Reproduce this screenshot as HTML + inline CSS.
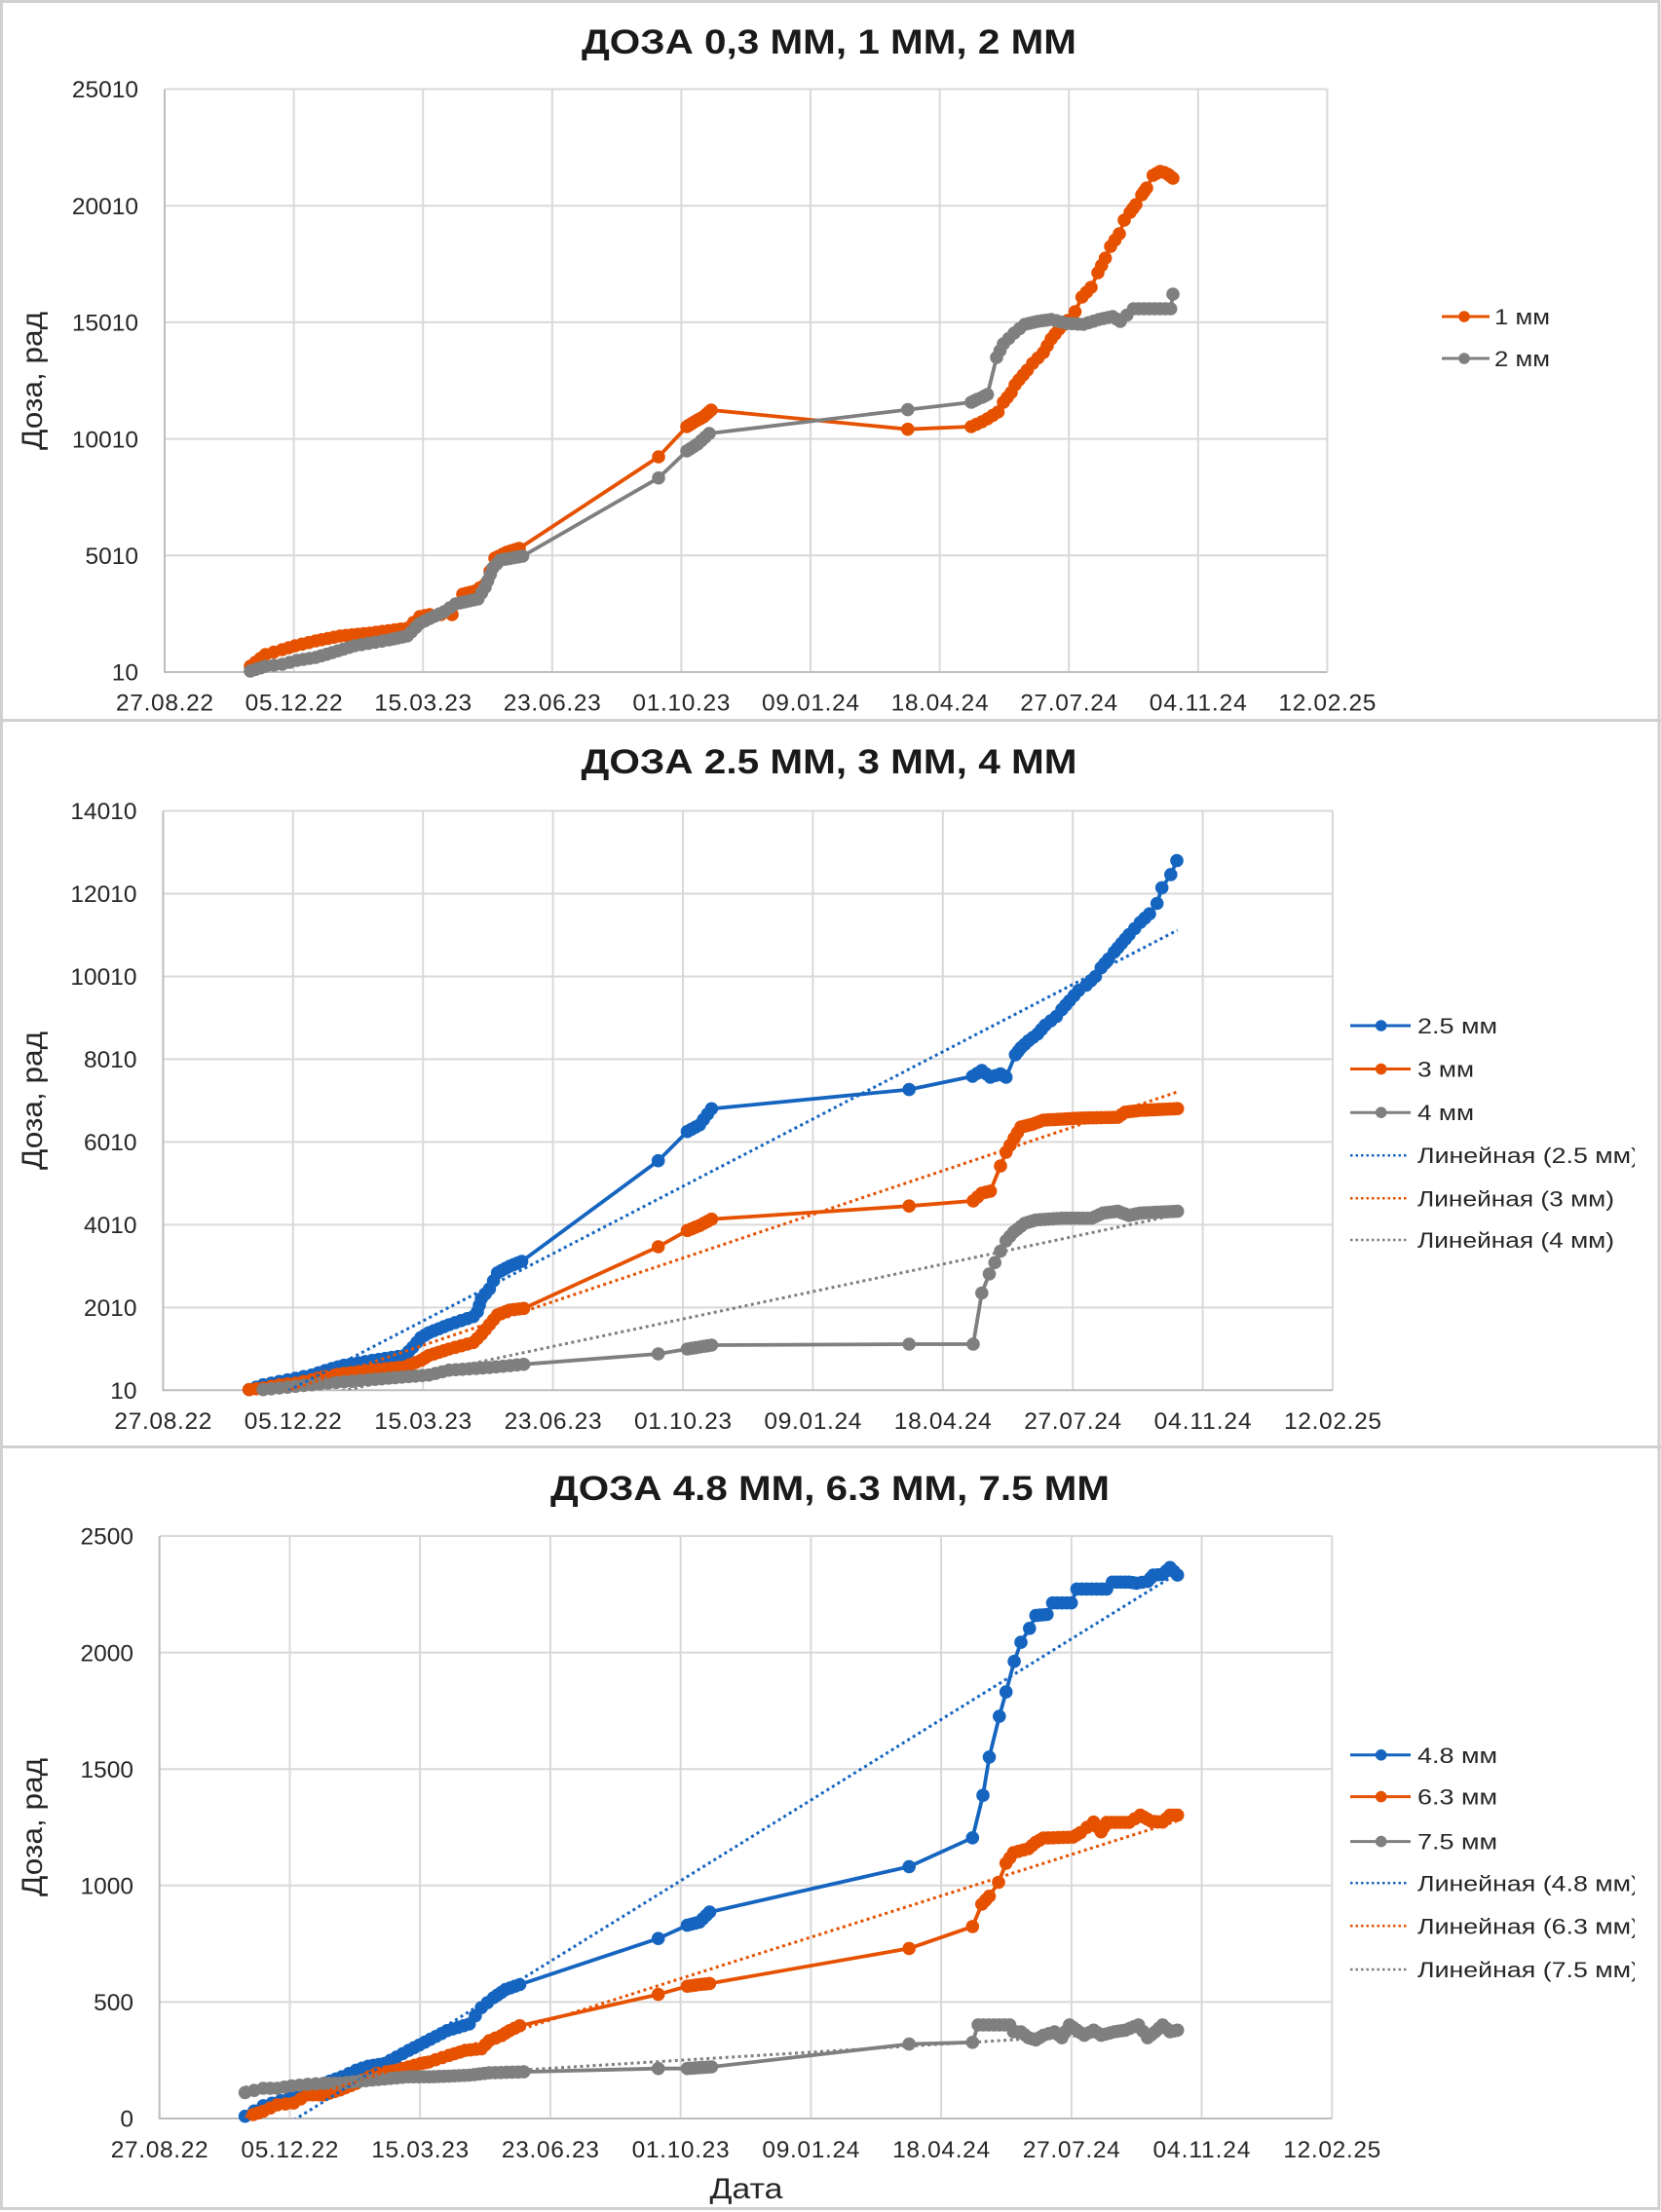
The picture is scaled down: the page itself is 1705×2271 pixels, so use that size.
<!DOCTYPE html>
<html><head><meta charset="utf-8">
<style>
html,body{margin:0;padding:0;background:#fff;}
svg{display:block;}
text{font-family:"Liberation Sans","DejaVu Sans",sans-serif;}
</style></head>
<body>
<svg id="s" xmlns="http://www.w3.org/2000/svg" width="1705" height="2271" viewBox="0 0 1705 2271">
<defs>
<clipPath id="c0"><rect x="169" y="91.5" width="1193.4" height="598.5"/></clipPath>
<clipPath id="c1"><rect x="167.4" y="832.5" width="1200.6" height="594.8"/></clipPath>
<clipPath id="c2"><rect x="163.7" y="1577" width="1203.6" height="598"/></clipPath>
<clipPath id="lc"><rect x="1300" y="0" width="378" height="2271"/></clipPath>
</defs>
<rect x="0" y="0" width="1705" height="2271" fill="#fff"/>
<g id="grid"></g>
<g id="data"></g>
<g id="leg"></g>
<rect x="1.5" y="1.5" width="1701.5" height="2266" fill="none" stroke="#d0d0d0" stroke-width="3"/>
<line x1="0" y1="739.5" x2="1705" y2="739.5" stroke="#d0d0d0" stroke-width="3"/>
<line x1="0" y1="1485.5" x2="1705" y2="1485.5" stroke="#d0d0d0" stroke-width="3"/>

<g fill="#1a1a1a" font-weight="bold" font-size="35" text-anchor="middle">
<text x="851" y="55" textLength="508" lengthAdjust="spacingAndGlyphs">ДОЗА 0,3 ММ, 1 ММ, 2 ММ</text>
<text x="851" y="794" textLength="509" lengthAdjust="spacingAndGlyphs">ДОЗА 2.5 ММ, 3 ММ, 4 ММ</text>
<text x="852" y="1540" textLength="574" lengthAdjust="spacingAndGlyphs">ДОЗА 4.8 ММ, 6.3 ММ, 7.5 ММ</text>
</g>

<g fill="#262626" font-size="30" text-anchor="middle">
<text transform="translate(43,391) rotate(-90)" textLength="142" lengthAdjust="spacingAndGlyphs">Доза, рад</text>
<text transform="translate(43,1130) rotate(-90)" textLength="142" lengthAdjust="spacingAndGlyphs">Доза, рад</text>
<text transform="translate(43,1876) rotate(-90)" textLength="142" lengthAdjust="spacingAndGlyphs">Доза, рад</text>
<text x="766" y="2257" textLength="75" lengthAdjust="spacingAndGlyphs">Дата</text>
</g>

<g fill="#262626" font-size="24.5" text-anchor="end">
<text x="142" y="100.2">25010</text>
<text x="142" y="219.9">20010</text>
<text x="142" y="339.6">15010</text>
<text x="142" y="459.3">10010</text>
<text x="142" y="579">5010</text>
<text x="142" y="698.7">10</text>

<text x="140.5" y="841.2">14010</text>
<text x="140.5" y="926.2">12010</text>
<text x="140.5" y="1011.1">10010</text>
<text x="140.5" y="1096.1">8010</text>
<text x="140.5" y="1181.1">6010</text>
<text x="140.5" y="1266.1">4010</text>
<text x="140.5" y="1351">2010</text>
<text x="140.5" y="1436">10</text>

<text x="137" y="1585.7">2500</text>
<text x="137" y="1705.3">2000</text>
<text x="137" y="1824.9">1500</text>
<text x="137" y="1944.5">1000</text>
<text x="137" y="2064.1">500</text>
<text x="137" y="2183.7">0</text>
</g>

<g fill="#262626" font-size="24.5" text-anchor="middle" lengthAdjust="spacingAndGlyphs">
<text x="169" y="729.5" textLength="100">27.08.22</text>
<text x="301.6" y="729.5" textLength="100">05.12.22</text>
<text x="434.2" y="729.5" textLength="100">15.03.23</text>
<text x="566.8" y="729.5" textLength="100">23.06.23</text>
<text x="699.4" y="729.5" textLength="100">01.10.23</text>
<text x="832" y="729.5" textLength="100">09.01.24</text>
<text x="964.6" y="729.5" textLength="100">18.04.24</text>
<text x="1097.2" y="729.5" textLength="100">27.07.24</text>
<text x="1229.8" y="729.5" textLength="100">04.11.24</text>
<text x="1362.4" y="729.5" textLength="100">12.02.25</text>

<text x="167.4" y="1466.8" textLength="100">27.08.22</text>
<text x="300.8" y="1466.8" textLength="100">05.12.22</text>
<text x="434.2" y="1466.8" textLength="100">15.03.23</text>
<text x="567.6" y="1466.8" textLength="100">23.06.23</text>
<text x="701" y="1466.8" textLength="100">01.10.23</text>
<text x="834.4" y="1466.8" textLength="100">09.01.24</text>
<text x="967.8" y="1466.8" textLength="100">18.04.24</text>
<text x="1101.2" y="1466.8" textLength="100">27.07.24</text>
<text x="1234.6" y="1466.8" textLength="100">04.11.24</text>
<text x="1368" y="1466.8" textLength="100">12.02.25</text>

<text x="163.7" y="2215" textLength="100">27.08.22</text>
<text x="297.4" y="2215" textLength="100">05.12.22</text>
<text x="431.2" y="2215" textLength="100">15.03.23</text>
<text x="564.9" y="2215" textLength="100">23.06.23</text>
<text x="698.6" y="2215" textLength="100">01.10.23</text>
<text x="832.4" y="2215" textLength="100">09.01.24</text>
<text x="966.1" y="2215" textLength="100">18.04.24</text>
<text x="1099.8" y="2215" textLength="100">27.07.24</text>
<text x="1233.5" y="2215" textLength="100">04.11.24</text>
<text x="1367.3" y="2215" textLength="100">12.02.25</text>
</g>

<g fill="#262626" font-size="22" clip-path="url(#lc)">
<text x="1534" y="333" textLength="57" lengthAdjust="spacingAndGlyphs">1 мм</text>
<text x="1534" y="376" textLength="57" lengthAdjust="spacingAndGlyphs">2 мм</text>

<text x="1455" y="1061" textLength="82" lengthAdjust="spacingAndGlyphs">2.5 мм</text>
<text x="1455" y="1105.5" textLength="58" lengthAdjust="spacingAndGlyphs">3 мм</text>
<text x="1455" y="1150.2" textLength="58" lengthAdjust="spacingAndGlyphs">4 мм</text>
<text x="1455" y="1194.2" textLength="228" lengthAdjust="spacingAndGlyphs">Линейная (2.5 мм)</text>
<text x="1455" y="1238.3" textLength="202" lengthAdjust="spacingAndGlyphs">Линейная (3 мм)</text>
<text x="1455" y="1281" textLength="202" lengthAdjust="spacingAndGlyphs">Линейная (4 мм)</text>

<text x="1455" y="1809.8" textLength="82" lengthAdjust="spacingAndGlyphs">4.8 мм</text>
<text x="1455" y="1852.6" textLength="82" lengthAdjust="spacingAndGlyphs">6.3 мм</text>
<text x="1455" y="1898.6" textLength="82" lengthAdjust="spacingAndGlyphs">7.5 мм</text>
<text x="1455" y="1941.3" textLength="228" lengthAdjust="spacingAndGlyphs">Линейная (4.8 мм)</text>
<text x="1455" y="1985.3" textLength="228" lengthAdjust="spacingAndGlyphs">Линейная (6.3 мм)</text>
<text x="1455" y="2030" textLength="228" lengthAdjust="spacingAndGlyphs">Линейная (7.5 мм)</text>
</g>
</svg>
<script>
(function(){
var NS='http://www.w3.org/2000/svg';
function add(p,t,a){var e=document.createElementNS(NS,t);for(var k in a)e.setAttribute(k,a[k]);p.appendChild(e);return e;}
var grid=document.getElementById('grid'),data=document.getElementById('data'),leg=document.getElementById('leg');
var BL='#1565C0',OR='#E65100',GR='#7F7F7F';
var RM=6.8, LW=3.8;
var charts=[{L:169,R:1362.4,T:91.5,B:690,ny:5},{L:167.4,R:1368,T:832.5,B:1427.3,ny:7},{L:163.7,R:1367.3,T:1577,B:2175,ny:5}];
charts.forEach(function(c){
  var sx=(c.R-c.L)/9,sy=(c.B-c.T)/c.ny;
  for(var i=1;i<=9;i++){var x=c.L+i*sx;add(grid,'line',{x1:x,y1:c.T,x2:x,y2:c.B,stroke:'#d9d9d9','stroke-width':2});}
  for(var j=0;j<c.ny;j++){var y=c.T+j*sy;add(grid,'line',{x1:c.L,y1:y,x2:c.R,y2:y,stroke:'#d9d9d9','stroke-width':2});}
  add(grid,'line',{x1:c.L,y1:c.T,x2:c.L,y2:c.B+1,stroke:'#bdbdbd','stroke-width':2});
  add(grid,'line',{x1:c.L,y1:c.B,x2:c.R,y2:c.B,stroke:'#bdbdbd','stroke-width':2});
});
function series(pts,col){
  var d='';
  pts.forEach(function(p,i){d+=(i?'L':'M')+p[0]+' '+p[1]+' ';});
  add(data,'path',{d:d,fill:'none',stroke:col,'stroke-width':LW,'stroke-linejoin':'round','stroke-linecap':'round'});
  var g=add(data,'g',{fill:col});
  pts.forEach(function(p,i){
    if(i>0&&p[2]>0){var q=pts[i-1],n=p[2];for(var k=1;k<=n;k++){var t=k/(n+1);add(g,'circle',{cx:q[0]+(p[0]-q[0])*t,cy:q[1]+(p[1]-q[1])*t,r:RM});}}
    add(g,'circle',{cx:p[0],cy:p[1],r:RM});
  });
}
function trend(x1,y1,x2,y2,col,clip){
  add(data,'line',{x1:x1,y1:y1,x2:x2,y2:y2,stroke:col,'stroke-width':3,'stroke-dasharray':'3,3.5','clip-path':'url(#'+clip+')'});
}
series([[257,684,0],[272.5,672,2],[289.7,667,1],[303,663,1],[324,658,2],[349,653,3],[379.6,650,4],[418,645,5],[431,633,1],[441,631,1],[464,631,1],[475,610,0],[487,607,2],[498,600,1],[508,573,1],[520,567,2],[533,563,3],[676,469,0],[705,438,0],[713,433,2],[722,428,2],[730,421,2],[931.8,440.7,0],[997,438,0],[1008,433,1],[1013.6,430,0],[1024.5,423,1],[1030,413,0],[1038,403,1],[1042,395,0],[1046,390,0],[1054.5,380,1],[1060,373,0],[1071,362,1],[1079,348,1],[1087,338,1],[1096,329,1],[1103.5,320,0],[1110.6,305,0],[1120,295,1],[1127,280,0],[1134.6,265,1],[1140,253,0],[1149,240,1],[1154,226,0],[1160,218,0],[1166,210,1],[1172,200,0],[1177,193,1],[1183.7,180,0],[1190.8,176,1],[1195,177,0],[1199,179,0],[1204,183,1]],OR);
series([[257,689,0],[272.5,684,2],[289.7,682,1],[305,678,1],[324,675,2],[341,670,2],[364,663,3],[399,657,4],[418,653,3],[431,640,2],[441,635,1],[456,628,2],[467.6,620,1],[490.6,615,4],[498,603,1],[506,583,2],[513.6,575,1],[536.5,571,4],[676,490.7,0],[705,463,0],[716,456,2],[728,445,2],[931.8,420.6,0],[997,413,0],[1003,410,1],[1008,408,0],[1013.6,405,1],[1023,367,0],[1030,353,1],[1041,342,1],[1052,333,1],[1065,330,2],[1079,328,2],[1095,332,2],[1112,333,2],[1128,328,2],[1142,325,2],[1150,330,1],[1163.5,317,1],[1201.7,317,6],[1204,302,0]],GR);
series([[255.7,1426.7,0],[270.2,1421.7,1],[286.8,1418.3,1],[303.4,1415,1],[320,1411.7,1],[340.7,1405,2],[353.1,1401.7,1],[382.2,1396.7,3],[415.3,1391.7,4],[423.6,1383.3,1],[432,1373.3,1],[440.2,1368.3,1],[461,1360,3],[485.8,1351.7,3],[490,1346.7,0],[494.1,1333.3,1],[502.4,1323.3,1],[510.7,1306.7,1],[523.1,1300,2],[535.6,1295,2],[675.7,1191.7,0],[705.5,1161.7,0],[718,1155,2],[730.4,1138.3,2],[933.2,1118.6,0],[998.3,1105,0],[1007.8,1099,1],[1016.6,1106,1],[1027,1102.5,1],[1032.7,1106,1],[1042.3,1082.9,0],[1048,1075.7,1],[1055.7,1068.6,1],[1065.2,1061.4,1],[1072.9,1052.5,1],[1084.4,1043.6,1],[1090,1036.4,0],[1097.8,1027.5,1],[1107.3,1016.8,1],[1115,1011.4,0],[1124.5,1002.5,1],[1130.3,993.6,0],[1138,984.6,1],[1143.7,977.5,0],[1151.3,968.6,1],[1159,959.6,1],[1170.5,947,1],[1180,938.2,1],[1187.7,927.5,0],[1192.7,911.4,0],[1201.8,897.9,0],[1208,883.6,0]],BL);
series([[255.7,1426.7,0],[270.2,1425,1],[286.8,1421.7,1],[303.4,1420,1],[320,1416.7,1],[332.4,1413.3,1],[353.1,1410,2],[382.2,1406.7,3],[415.3,1403.3,4],[432,1396.7,2],[440.2,1391.7,1],[461,1385,3],[485.8,1378.3,3],[494.1,1370,1],[502.4,1360,1],[510.7,1350,1],[523.1,1345,2],[537.6,1343.3,2],[675.7,1280,0],[705.5,1263.3,0],[718,1258.3,2],[730.4,1251.7,2],[933.2,1238.2,0],[999,1232.9,0],[1007.8,1225,1],[1016.6,1222.9,1],[1027,1197.1,0],[1032.7,1182.9,0],[1041,1168.6,1],[1048,1157.1,1],[1059.5,1154.3,2],[1071,1150,2],[1090,1149,4],[1109,1147.9,4],[1147.5,1147.1,8],[1155,1141.8,1],[1170.5,1140,3],[1208.7,1138.2,9]],OR);
series([[270.2,1426.7,0],[286.8,1425,1],[303.4,1423.3,1],[336.6,1420,3],[378,1416.7,4],[419.5,1413.3,5],[440.2,1411.7,2],[461,1406.7,2],[502.4,1404,5],[537.6,1400.7,4],[675.7,1390,0],[705.5,1385,0],[718,1383,2],[730.4,1381,2],[933.2,1380,0],[999,1380,0],[1007.8,1327.5,0],[1015.5,1307.9,0],[1027,1284.6,1],[1032.7,1273.9,0],[1040.4,1265,1],[1051.8,1256,2],[1063.3,1252.5,2],[1090,1250.7,5],[1120.7,1250.7,6],[1132.2,1245.4,2],[1147.5,1243.6,3],[1159,1247.9,2],[1170.5,1245.4,2],[1208.7,1243.6,8]],GR);
trend(255.7,1448.6,1208.7,955,BL,'c1');
trend(255.7,1441.2,1208.7,1121,OR,'c1');
trend(255.7,1448.2,1208.7,1247,GR,'c1');
series([[251.6,2172.7,0],[270.2,2161.9,1],[297.2,2154.1,2],[311.7,2145.7,1],[332.4,2138.9,2],[351,2132.2,2],[365.6,2125.4,1],[378,2121.3,1],[394.6,2118.6,2],[407,2111.9,1],[419.5,2105.1,1],[436,2096.7,2],[458.9,2084.8,3],[481.7,2078,3],[494.1,2061.2,1],[506.6,2051,1],[519,2042.6,2],[533.5,2037.5,2],[675.7,1990.2,0],[705.5,1976.6,0],[718,1973.3,2],[728.4,1963.1,2],[933.2,1916.4,0],[998.3,1886.8,0],[1009,1843.2,0],[1015.5,1803.9,0],[1025.8,1762.1,0],[1032.7,1737.1,0],[1041.1,1705.7,0],[1048,1686.1,0],[1056.8,1671.8,0],[1063.3,1658.6,0],[1074.8,1657.5,2],[1080.5,1645.7,0],[1099.7,1645.7,3],[1105.4,1631.4,0],[1136,1631.4,5],[1141.8,1624.3,0],[1159,1624.3,3],[1166.6,1625.4,1],[1178,1623.6,1],[1183.9,1617.1,1],[1193.4,1616.4,1],[1201,1609.3,1],[1208.7,1617.1,1]],BL);
series([[259.9,2171,0],[270.2,2167.6,1],[284.7,2160.9,1],[301.3,2159.2,1],[315.8,2150.7,1],[332.4,2150.7,2],[349,2145.7,2],[365.6,2138.9,2],[386.3,2128.8,2],[407,2125.4,3],[431.9,2118.6,3],[440.2,2117,1],[461,2110.2,2],[477.5,2105.1,2],[494.1,2103.4,2],[502.4,2095,1],[514.8,2089.9,1],[523.1,2084.8,1],[533.5,2079.8,1],[675.7,2047.6,0],[705.5,2039.2,0],[718,2037.5,2],[728.4,2036.4,2],[933.2,2000.4,0],[998.3,1977.9,0],[1007.8,1955,0],[1015.5,1946.8,1],[1025,1932.5,0],[1032.7,1912.9,0],[1040.4,1902.1,1],[1055.7,1897.9,2],[1063.3,1891.4,1],[1071,1887.1,1],[1101.6,1886.1,5],[1109.2,1881.4,1],[1122.6,1870.7,1],[1130.3,1880.7,1],[1136,1871,1],[1159,1871,4],[1170.5,1863.6,1],[1182,1870,2],[1193.4,1870.7,2],[1201,1863.6,1],[1208.7,1863.6,1]],OR);
series([[251.6,2148.4,0],[270.2,2144,1],[284.7,2144,1],[299.3,2141.6,1],[315.8,2139.9,1],[332.4,2138.9,1],[349,2138.9,2],[382.2,2135.5,4],[419.5,2132.2,5],[440.2,2132.2,3],[461,2131.5,3],[481.7,2130.5,3],[502.4,2128.1,3],[537.6,2127.1,5],[675.7,2123.7,0],[705.5,2123.7,0],[718,2122.8,2],[730.4,2122,2],[933.2,2098.6,0],[998.3,2096.8,0],[1004,2078.9,0],[1036.5,2078.9,5],[1040.4,2086,0],[1048,2086,1],[1055.7,2092.1,1],[1063.3,2094.3,1],[1071,2089.6,1],[1082.5,2086,1],[1090,2092.1,1],[1097.8,2078.9,1],[1105.4,2084.3,1],[1113,2089.6,1],[1122.6,2084.3,1],[1130.3,2089.6,1],[1143.7,2086,2],[1155.2,2084.3,2],[1168.6,2078.9,2],[1178,2092.1,1],[1185.8,2086,1],[1193.4,2078.9,1],[1201,2086,1],[1208.7,2084.3,1]],GR);
trend(251.6,2207.6,1208.7,1615.2,BL,'c2');
trend(251.6,2173.3,1208.7,1869.4,OR,'c2');
trend(251.6,2142.7,1208.7,2083.8,GR,'c2');
function legS(x1,x2,cx,y,col){add(leg,'line',{x1:x1,y1:y,x2:x2,y2:y,stroke:col,'stroke-width':3});add(leg,'circle',{cx:cx,cy:y,r:5.8,fill:col});}
function legT(x1,x2,y,col){add(leg,'line',{x1:x1,y1:y,x2:x2,y2:y,stroke:col,'stroke-width':2.5,'stroke-dasharray':'2.5,3'});}
legS(1480,1529,1503,325,OR);legS(1480,1529,1503,368,GR);
legS(1386,1448,1417.7,1053,BL);legS(1386,1448,1417.7,1097.5,OR);legS(1386,1448,1417.7,1142.2,GR);
legT(1386,1444,1186.2,BL);legT(1386,1444,1230.3,OR);legT(1386,1444,1273,GR);
legS(1386,1448,1417.7,1801.8,BL);legS(1386,1448,1417.7,1844.6,OR);legS(1386,1448,1417.7,1890.6,GR);
legT(1386,1444,1933.3,BL);legT(1386,1444,1977.3,OR);legT(1386,1444,2022,GR);
})();
</script>
</body></html>
